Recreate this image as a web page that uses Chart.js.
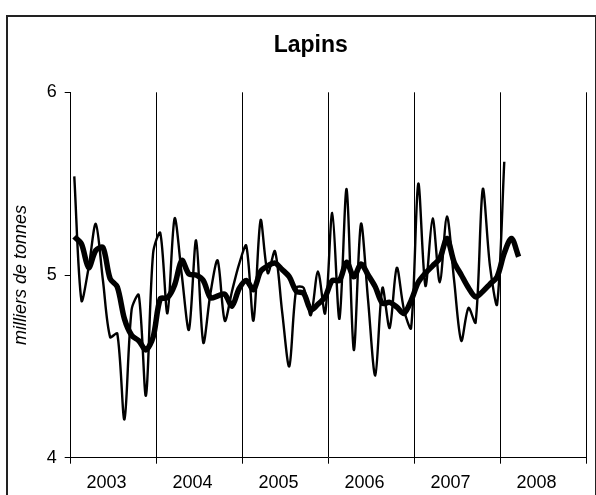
<!DOCTYPE html>
<html lang="fr">
<head>
    <meta charset="UTF-8">
    <title>Lapins</title>
    <script src="https://cdn.jsdelivr.net/npm/chart.js"></script>
    <style>
        body { margin: 0; background: #fff; }
        #wrap { position: relative; width: 596px; height: 495px; overflow: hidden; }
        #frame {
            position: absolute; left: 6px; top: 15px;
            width: 587px; height: 520px;
            border: 2px solid #222;
        }
        canvas { position: absolute; left: 0; top: 0; }
    </style>
</head>
<body>
<div id="wrap">
    <div id="frame"></div>
    <canvas id="chart" width="596" height="495"></canvas>
</div>

<script>
// year labels (one per 12 months, starting Jan 2003)
var years = ["2003", "2004", "2005", "2006", "2007", "2008"];
var yTicks = [4, 5, 6];

// monthly values, Jan 2003 .. Jan 2008
var monthly = [
    5.54, 4.86, 5.04, 5.28, 4.97, 4.66, 4.68, 4.21, 4.81, 4.89, 4.34, 5.12,
    5.23, 4.79, 5.31, 5.00, 4.70, 5.19, 4.63, 4.90, 5.08, 4.75, 4.91, 5.06,
    5.16, 4.75, 5.30, 5.01, 5.13, 4.80, 4.50, 4.93, 4.93, 4.78, 5.02, 4.79,
    5.34, 4.76, 5.47, 4.59, 5.28, 4.86, 4.45, 4.93, 4.71, 5.04, 4.81, 4.71,
    5.50, 4.94, 5.31, 4.96, 5.32, 4.97, 4.64, 4.82, 4.74, 5.47, 5.05, 4.84,
    5.62
];

// smoothed trend, Jan 2003 .. Mar 2008
var trend = [
    5.21, 5.17, 5.04, 5.135, 5.15, 4.98, 4.935, 4.76, 4.67, 4.64, 4.59, 4.66,
    4.87, 4.875, 4.945, 5.08, 5.005, 5.00, 4.97, 4.875, 4.885, 4.895, 4.83, 4.925,
    4.97, 4.92, 5.02, 5.05, 5.065, 5.03, 4.99, 4.91, 4.90, 4.81, 4.84, 4.88,
    4.97, 4.97, 5.07, 4.99, 5.06, 5.00, 4.935, 4.845, 4.85, 4.825, 4.79, 4.86,
    4.96, 5.01, 5.05, 5.09, 5.20, 5.07, 5.00, 4.93, 4.88, 4.91, 4.95, 4.99,
    5.12, 5.20, 5.10
];

// points sit in the middle of each month slot
function toPoints(arr) {
    return arr.map(function (v, i) { return { x: i + 0.5, y: v }; });
}

var FONT = "'Liberation Sans', Arial, sans-serif";

// title is drawn by hand so it can sit where Excel put it
var titlePlugin = {
    id: 'lapinsTitle',
    afterDraw: function (chart) {
        var ctx = chart.ctx;
        ctx.save();
        ctx.font = "bold 23px " + FONT;
        ctx.fillStyle = '#000';
        ctx.textAlign = 'center';
        ctx.textBaseline = 'alphabetic';
        ctx.fillText('Lapins', 310.7, 51.7);
        ctx.restore();
    }
};

var ctx = document.getElementById('chart').getContext('2d');
var chart = new Chart(ctx, {
    type: 'line',
    data: {
        datasets: [
            {
                data: toPoints(monthly),
                borderColor: '#000',
                borderWidth: 2.4,
                pointRadius: 0,
                tension: 0.3,
                fill: false
            },
            {
                data: toPoints(trend),
                borderColor: '#000',
                borderWidth: 5.5,
                pointRadius: 0,
                tension: 0.3,
                fill: false
            }
        ]
    },
    options: {
        responsive: false,
        animation: false,
        layout: { padding: { left: 10, right: 9.3, top: 92.3, bottom: 0 } },
        plugins: {
            legend: { display: false },
            tooltip: { enabled: false },
            title: { display: false }
        },
        scales: {
            x: {
                type: 'linear',
                min: 0,
                max: years.length * 12,
                afterFit: function (scale) { scale.height = 37.3; },
                border: { display: true, color: '#000', width: 1 },
                grid: {
                    drawOnChartArea: true,
                    drawTicks: true,
                    tickLength: 6,
                    lineWidth: 1,
                    color: function (c) {
                        return c.tick && c.tick.value % 12 === 0 ? '#000' : 'rgba(0,0,0,0)';
                    }
                },
                ticks: {
                    stepSize: 1,
                    autoSkip: false,
                    maxRotation: 0,
                    padding: 9,
                    color: '#000',
                    font: { family: FONT, size: 18 },
                    callback: function (value) {
                        if (value % 12 === 5) {
                            return years[Math.floor(value / 12)];
                        }
                        return '';
                    }
                }
            },
            y: {
                min: yTicks[0],
                max: yTicks[yTicks.length - 1],
                afterFit: function (scale) { scale.width = 60.7; },
                afterBuildTicks: function (scale) {
                    scale.ticks = yTicks.map(function (v) { return { value: v }; });
                },
                border: { display: true, color: '#000', width: 1 },
                grid: {
                    drawOnChartArea: false,
                    drawTicks: true,
                    tickLength: 6,
                    color: '#000'
                },
                ticks: {
                    padding: 8,
                    color: '#000',
                    font: { family: FONT, size: 18 }
                },
                title: {
                    display: true,
                    text: 'milliers de tonnes',
                    color: '#000',
                    padding: 0,
                    font: { family: FONT, size: 18, style: 'italic' }
                }
            }
        }
    },
    plugins: [titlePlugin]
});
</script>
</body>
</html>
